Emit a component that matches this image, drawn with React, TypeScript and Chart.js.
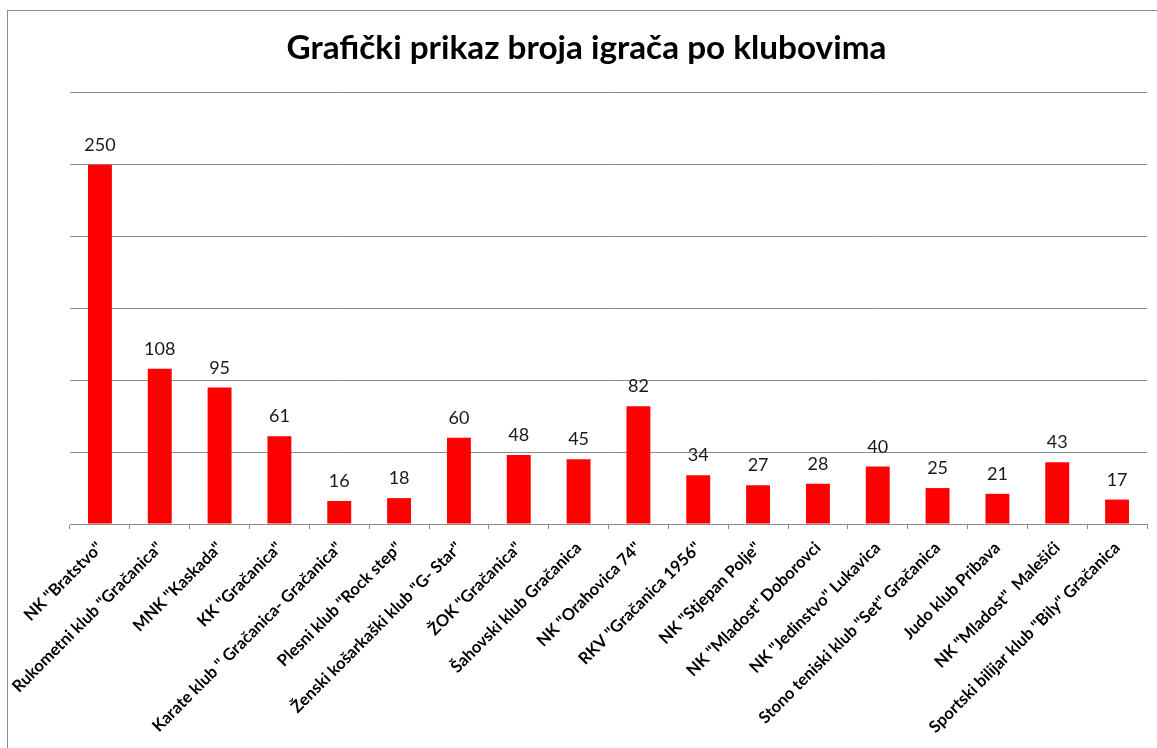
import React, { useEffect, useRef } from "react";
import { Chart, registerables } from "chart.js";

Chart.register(...registerables);

const TITLE = "Grafički prikaz broja igrača po klubovima";

const clubs = [
  'NK "Bratstvo"',
  'Rukometni klub "Gračanica"',
  'MNK "Kaskada"',
  'KK "Gračanica"',
  'Karate klub " Gračanica- Gračanica"',
  'Plesni klub "Rock step"',
  'Ženski košarkaški klub "G- Star"',
  'ŽOK "Gračanica"',
  'Šahovski klub Gračanica',
  'NK "Orahovica 74"',
  'RKV "Gračanica 1956"',
  'NK "Stjepan Polje"',
  'NK "Mladost" Doborovci',
  'NK "Jedinstvo" Lukavica',
  'Stono teniski klub "Set" Gračanica',
  'Judo klub Pribava',
  'NK "Mladost"  Malešići',
  'Sportski bilijar klub "Bily" Gračanica',
];

const players = [250, 108, 95, 61, 16, 18, 60, 48, 45, 82, 34, 27, 28, 40, 25, 21, 43, 17];

const yMin = 0;
const yMax = 300;
const yStep = 50;

const FONT = "Lato, 'Open Sans', sans-serif";

const framePlugin = {
  id: "frame",
  beforeDraw(chart: any) {
    const ctx = chart.ctx;
    ctx.save();
    ctx.fillStyle = "#ffffff";
    ctx.fillRect(0, 0, chart.width, chart.height);
    ctx.strokeStyle = "#8c8c8c";
    ctx.lineWidth = 1;
    ctx.strokeRect(7.5, 10.5, chart.width + 50, chart.height + 50);
    ctx.restore();
  },
};

const valueLabelPlugin = {
  id: "valueLabels",
  afterDatasetsDraw(chart: any) {
    const ctx = chart.ctx;
    const meta = chart.getDatasetMeta(0);
    const data = chart.data.datasets[0].data;
    ctx.save();
    ctx.font = `18px ${FONT}`;
    ctx.fillStyle = "#1a1a1a";
    ctx.textAlign = "center";
    ctx.textBaseline = "alphabetic";
    meta.data.forEach((bar: any, i: number) => {
      ctx.fillText(String(data[i]), bar.x, bar.y - 14);
    });
    ctx.restore();
  },
};

export default function App() {
  const ref = useRef<HTMLCanvasElement | null>(null);

  useEffect(() => {
    if (!ref.current) return;
    const chart = new Chart(ref.current, {
      type: "bar",
      data: {
        labels: clubs,
        datasets: [
          {
            data: players,
            backgroundColor: "#ff0000",
            borderWidth: 0,
            barPercentage: 0.4,
            categoryPercentage: 1,
          },
        ],
      },
      options: {
        responsive: false,
        animation: false,
        layout: { padding: { left: 26, right: 10, top: 0, bottom: 0 } },
        plugins: {
          legend: { display: false },
          tooltip: { enabled: false },
          title: {
            display: true,
            text: TITLE,
            color: "#000000",
            font: { family: FONT, size: 33.3, weight: "bold" },
            padding: { top: 28, bottom: 25 },
          },
        },
        scales: {
          x: {
            offset: true,
            grid: {
              display: true,
              drawOnChartArea: false,
              drawTicks: true,
              tickLength: 5,
              offset: true,
              color: "#8c8c8c",
            },
            border: { display: true, color: "#8c8c8c" },
            ticks: {
              autoSkip: false,
              maxRotation: 45,
              minRotation: 45,
              color: "#000000",
              padding: 9,
              font: { family: FONT, size: 16.5, weight: "bold" },
            },
            afterFit: (s: any) => {
              s.height = 224;
            },
          },
          y: {
            min: yMin,
            max: yMax,
            ticks: { display: false, stepSize: yStep },
            grid: { color: "#8c8c8c", drawTicks: false },
            border: { display: false },
            afterFit: (s: any) => {
              s.width = 44;
            },
          },
        },
      },
      plugins: [framePlugin, valueLabelPlugin],
    });
    return () => chart.destroy();
  }, []);

  return (
    <div style={{ position: "fixed", left: 0, top: 0, width: 1157, height: 748, background: "#fff" }}>
      <canvas ref={ref} width={1157} height={748} style={{ display: "block" }} />
    </div>
  );
}
